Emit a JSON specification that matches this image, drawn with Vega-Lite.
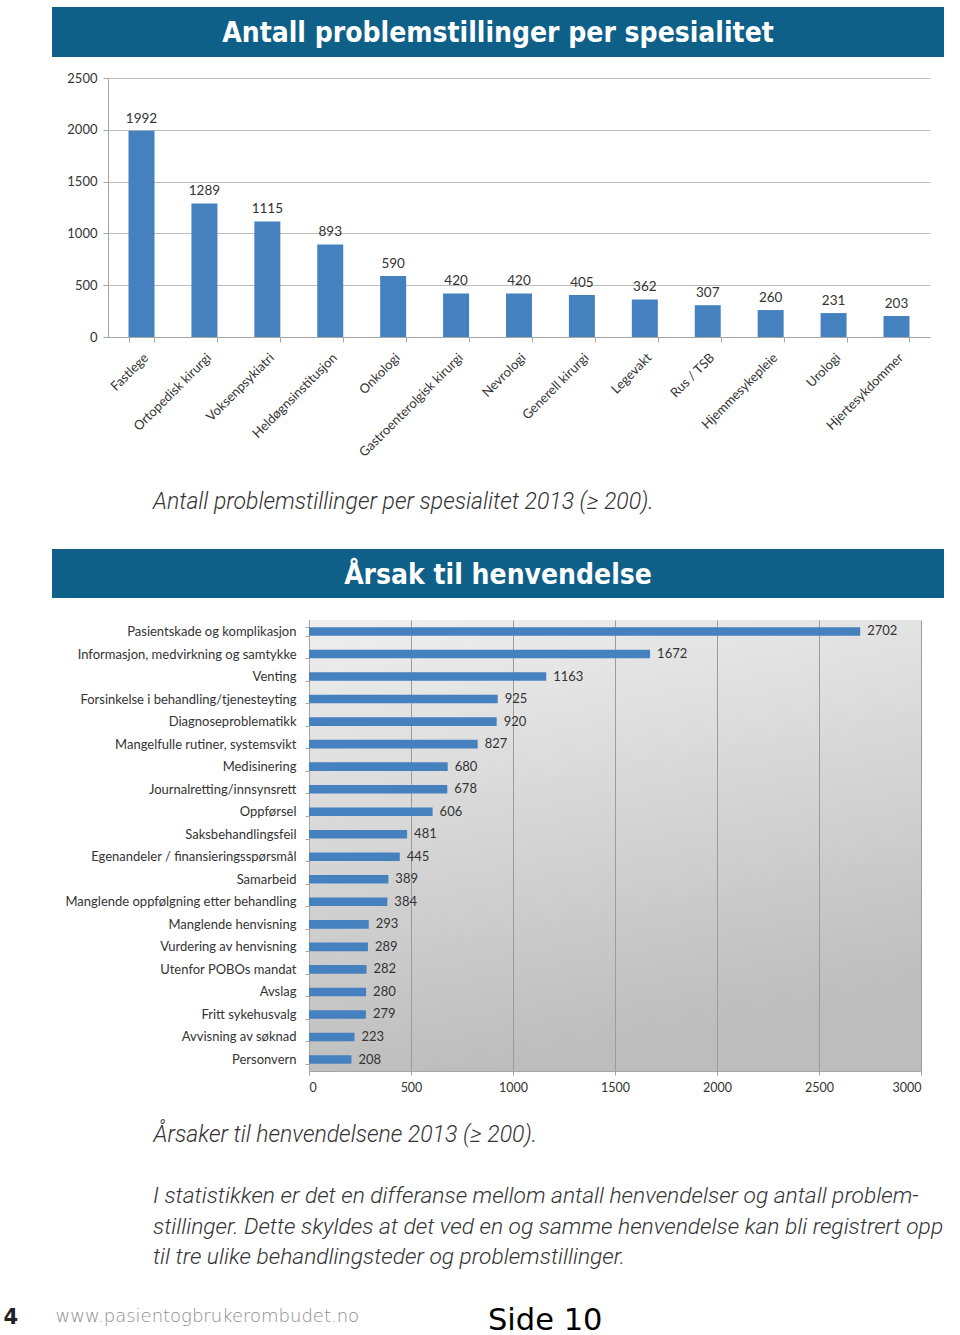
{
  "$schema": "https://vega.github.io/schema/vega-lite/v6.json",
  "background": "white",
  "padding": {"left": 3, "top": 7, "right": 10, "bottom": 0},
  "autosize": {"type": "pad"},
  "spacing": 0,
  "config": {"view": {"stroke": null}, "font": "Lato"},
  "vconcat": [
    {
      "width": 892,
      "height": 50,
      "view": {"fill": "#0f6089", "stroke": null},
      "data": {"values": [{"t": "Antall problemstillinger per spesialitet"}]},
      "mark": {"type": "text", "color": "white", "font": "DejaVu Sans Condensed", "fontSize": 28, "fontWeight": "bold", "baseline": "middle", "dy": 2},
      "encoding": {
        "text": {"field": "t"},
        "x": {"datum": 0, "type": "quantitative", "scale": {"domain": [-1, 1]}, "axis": {"labels": false, "ticks": false, "domain": false, "grid": false, "title": null, "minExtent": 14.5, "maxExtent": 14.5}},
        "y": {"datum": 0, "type": "quantitative", "scale": {"domain": [-1, 1]}, "axis": {"labels": false, "ticks": false, "domain": false, "grid": false, "title": null}}
      }
    },
    {
      "spacing": 0,
      "hconcat": [
        {"width": 1, "height": 1, "data": {"values": [{}]}, "mark": {"type": "text", "text": ""}},
        {
          "width": 822,
          "height": 259,
          "data": {"values": [
            {"spesialitet": "Fastlege", "antall": 1992},
            {"spesialitet": "Ortopedisk kirurgi", "antall": 1289},
            {"spesialitet": "Voksenpsykiatri", "antall": 1115},
            {"spesialitet": "Heldøgnsinstitusjon", "antall": 893},
            {"spesialitet": "Onkologi", "antall": 590},
            {"spesialitet": "Gastroenterolgisk kirurgi", "antall": 420},
            {"spesialitet": "Nevrologi", "antall": 420},
            {"spesialitet": "Generell kirurgi", "antall": 405},
            {"spesialitet": "Legevakt", "antall": 362},
            {"spesialitet": "Rus / TSB", "antall": 307},
            {"spesialitet": "Hjemmesykepleie", "antall": 260},
            {"spesialitet": "Urologi", "antall": 231},
            {"spesialitet": "Hjertesykdommer", "antall": 203}
          ]},
          "encoding": {
            "x": {"field": "spesialitet", "type": "nominal", "sort": null,
              "scale": {"paddingInner": 0.587, "paddingOuter": 0.326},
              "axis": {"title": null, "labelAngle": -45, "labelFontSize": 13, "labelColor": "#333", "labelPadding": 9, "tickBand": "extent", "tickSize": 5, "tickColor": "#a6a6a6", "domainColor": "#a6a6a6", "labelLimit": 300, "minExtent": 153.4, "maxExtent": 153.4}},
            "y": {"field": "antall", "type": "quantitative",
              "scale": {"domain": [0, 2500]},
              "axis": {"title": null, "values": [0, 500, 1000, 1500, 2000, 2500], "format": "d", "labelFontSize": 13, "labelColor": "#333", "labelPadding": 6, "tickSize": 5, "tickColor": "#a6a6a6", "domainColor": "#a6a6a6", "gridColor": "#bcbcbc", "minExtent": 55, "maxExtent": 55}}
          },
          "layer": [
            {"mark": {"type": "bar", "color": "#4581be"}},
            {"mark": {"type": "text", "baseline": "bottom", "dy": -5, "fontSize": 13.5, "color": "#333"},
             "encoding": {"text": {"field": "antall", "type": "quantitative"}}}
          ]
        }
      ]
    },
    {
      "width": 892,
      "height": 49,
      "view": {"fill": "#0f6089", "stroke": null},
      "title": {"text": "Antall problemstillinger per spesialitet 2013 (≥ 200).", "orient": "top", "anchor": "start", "frame": "group", "dx": 101, "offset": 16.7, "baseline": "alphabetic", "font": "Roboto", "fontStyle": "italic", "fontWeight": 300, "fontSize": 23, "color": "#333"},
      "data": {"values": [{"t": "Årsak til henvendelse"}]},
      "mark": {"type": "text", "color": "white", "font": "DejaVu Sans Condensed", "fontSize": 28, "fontWeight": "bold", "baseline": "middle", "dy": 2},
      "encoding": {
        "text": {"field": "t"},
        "x": {"datum": 0, "type": "quantitative", "scale": {"domain": [-1, 1]}, "axis": {"labels": false, "ticks": false, "domain": false, "grid": false, "title": null, "minExtent": 16, "maxExtent": 16}},
        "y": {"datum": 0, "type": "quantitative", "scale": {"domain": [-1, 1]}, "axis": {"labels": false, "ticks": false, "domain": false, "grid": false, "title": null}}
      }
    },
    {
      "spacing": 0,
      "hconcat": [
        {"width": 1, "height": 1, "data": {"values": [{}]}, "mark": {"type": "text", "text": ""}},
        {
          "width": 612,
          "height": 451,
          "view": {"fill": {"gradient": "linear", "x1": 0, "y1": 0, "x2": 0.25, "y2": 1, "stops": [{"offset": 0, "color": "#efefef"}, {"offset": 1, "color": "#bdbdbd"}]}, "stroke": null},
          "title": {"text": ["I statistikken er det en differanse mellom antall henvendelser og antall problem-", "stillinger. Dette skyldes at det ved en og samme henvendelse kan bli registrert opp", "til tre ulike behandlingsteder og problemstillinger."],
            "orient": "bottom", "anchor": "start", "frame": "group", "dx": -156, "offset": -98, "baseline": "alphabetic", "align": "left",
            "font": "Roboto", "fontStyle": "italic", "fontWeight": 300, "fontSize": 22.8, "lineHeight": 30.6, "color": "#333", "limit": 1000},
          "data": {"values": [
            {"aarsak": "Pasientskade og komplikasjon", "antall": 2702},
            {"aarsak": "Informasjon, medvirkning og samtykke", "antall": 1672},
            {"aarsak": "Venting", "antall": 1163},
            {"aarsak": "Forsinkelse i behandling/tjenesteyting", "antall": 925},
            {"aarsak": "Diagnoseproblematikk", "antall": 920},
            {"aarsak": "Mangelfulle rutiner, systemsvikt", "antall": 827},
            {"aarsak": "Medisinering", "antall": 680},
            {"aarsak": "Journalretting/innsynsrett", "antall": 678},
            {"aarsak": "Oppførsel", "antall": 606},
            {"aarsak": "Saksbehandlingsfeil", "antall": 481},
            {"aarsak": "Egenandeler / finansieringsspørsmål", "antall": 445},
            {"aarsak": "Samarbeid", "antall": 389},
            {"aarsak": "Manglende oppfølgning etter behandling", "antall": 384},
            {"aarsak": "Manglende henvisning", "antall": 293},
            {"aarsak": "Vurdering av henvisning", "antall": 289},
            {"aarsak": "Utenfor POBOs mandat", "antall": 282},
            {"aarsak": "Avslag", "antall": 280},
            {"aarsak": "Fritt sykehusvalg", "antall": 279},
            {"aarsak": "Avvisning av søknad", "antall": 223},
            {"aarsak": "Personvern", "antall": 208}
          ]},
          "encoding": {
            "y": {"field": "aarsak", "type": "nominal", "sort": null,
              "scale": {"paddingInner": 0.62, "paddingOuter": 0.32},
              "axis": {"title": null, "labelFontSize": 13, "labelColor": "#333", "labelPadding": 9, "tickBand": "extent", "tickSize": 4, "tickColor": "#a6a6a6", "domainColor": "#a6a6a6", "labelLimit": 320, "minExtent": 256, "maxExtent": 256}},
            "x": {"field": "antall", "type": "quantitative",
              "scale": {"domain": [0, 3000]},
              "axis": {"values": [0, 500, 1000, 1500, 2000, 2500, 3000], "format": "d", "labelFontSize": 12.5, "labelColor": "#333", "labelPadding": 6, "tickSize": 4, "tickColor": "#a6a6a6", "domainColor": "#a6a6a6", "gridColor": "#9c9c9c", "minExtent": 230, "maxExtent": 230,
                "title": "Årsaker til henvendelsene 2013 (≥ 200).",
                "titleX": -156, "titleY": 70, "titleAlign": "left", "titleAnchor": "start", "titleAngle": 0, "titleBaseline": "alphabetic",
                "titleFont": "Roboto", "titleFontStyle": "italic", "titleFontWeight": 300, "titleFontSize": 23, "titleColor": "#333", "titleLimit": 1000}}
          },
          "layer": [
            {"mark": {"type": "bar", "color": "#4581be"}},
            {"mark": {"type": "text", "align": "left", "baseline": "middle", "dx": 7, "fontSize": 13, "color": "#333"},
             "encoding": {"text": {"field": "antall", "type": "quantitative"}}}
          ]
        }
      ]
    },
    {
      "width": 892,
      "height": 24,
      "title": {"text": "Side 10", "orient": "bottom", "anchor": "start", "frame": "group", "dx": 436, "offset": 3, "baseline": "alphabetic", "font": "DejaVu Sans", "fontSize": 30.5, "fontWeight": "normal", "color": "#000"},
      "data": {"values": [{}]},
      "mark": {"type": "text", "text": ""},
      "encoding": {
        "x": {"datum": 0, "type": "quantitative", "scale": {"domain": [-1, 1]},
          "axis": {"labels": false, "ticks": false, "domain": false, "grid": false,
            "title": "www.pasientogbrukerombudet.no", "titleX": 3, "titleY": -4, "titleAlign": "left", "titleAnchor": "start", "titleAngle": 0, "titleBaseline": "alphabetic",
            "titleFont": "DejaVu Sans", "titleFontWeight": 300, "titleFontSize": 18, "titleColor": "#8c8c8c"}},
        "y": {"datum": 0, "type": "quantitative", "scale": {"domain": [-1, 1]},
          "axis": {"labels": false, "ticks": false, "domain": false, "grid": false, "minExtent": 49, "maxExtent": 49,
            "title": "4", "titleX": -49, "titleY": 22, "titleAlign": "left", "titleAngle": 0, "titleBaseline": "alphabetic",
            "titleFont": "DejaVu Sans", "titleFontWeight": "bold", "titleFontSize": 21, "titleColor": "#222"}}
      }
    }
  ]
}
